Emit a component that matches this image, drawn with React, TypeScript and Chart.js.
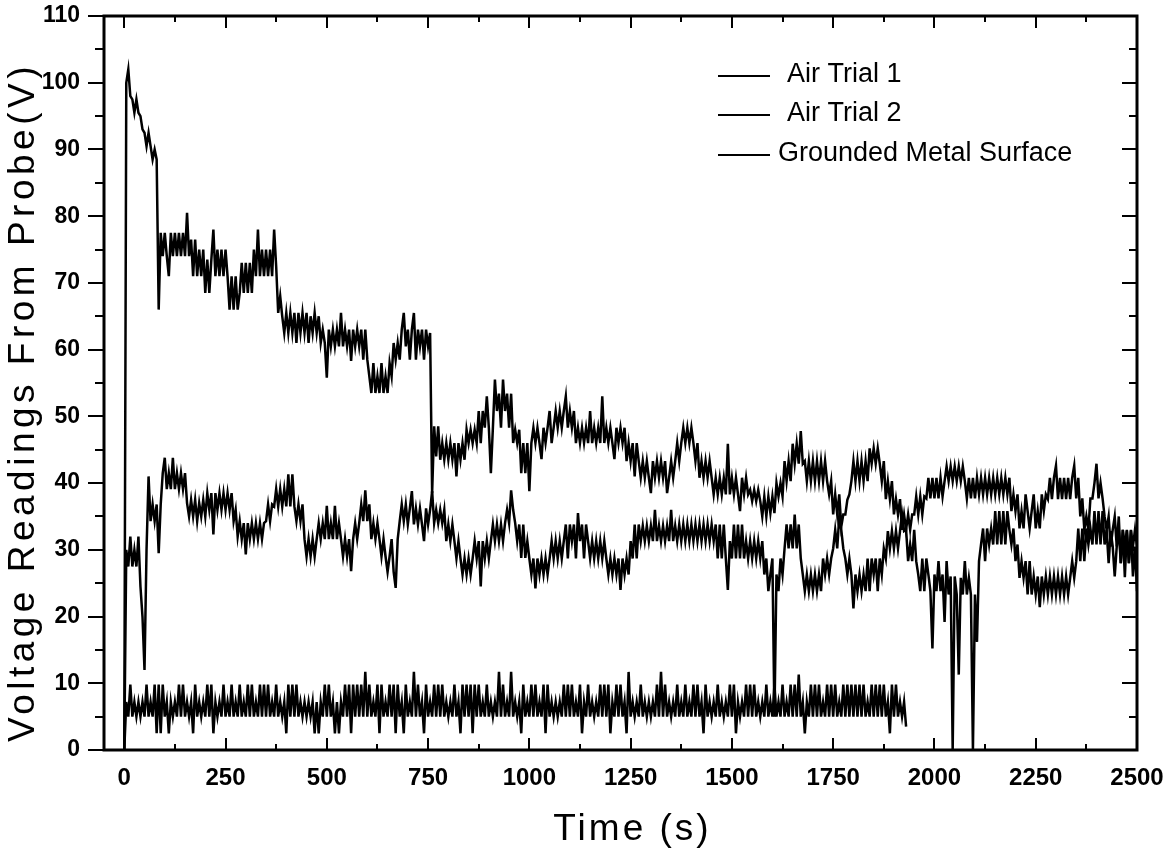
import React, { useEffect, useRef } from "react";
import { Chart, registerables } from "chart.js";

Chart.register(...registerables);

const SAMPLE_STEP_S = 5;

const seriesLabels = ["Air Trial 1", "Air Trial 2", "Grounded Metal Surface"];
const xAxisTitle = "Time (s)";
const yAxisTitle = "Voltage Readings From Probe(V)";

const xMajorTicks = [0, 250, 500, 750, 1000, 1250, 1500, 1750, 2000, 2250, 2500];
const xMinorTicks = [125, 375, 625, 875, 1125, 1375, 1625, 1875, 2125, 2375];
const yMajorTicks = [0, 10, 20, 30, 40, 50, 60, 70, 80, 90, 100, 110];
const yMinorTicks = [5, 15, 25, 35, 45, 55, 65, 75, 85, 95, 105];

// Air Trial 1, one reading every 5 s from t = 0 to 2500 s (one row = 100 s)
const airTrial1 = [
  0, 100, 102, 98, 97.5, 95.5, 97.5, 95.5, 95, 93, 92.5, 90.5, 92.5, 90.5, 88.5, 90, 88.5, 66, 77.5, 74,
  77.5, 74, 71, 77.5, 74, 77.5, 74, 77.5, 74, 77.5, 74, 80.5, 74, 76.5, 71, 76.5, 71, 75, 71, 75,
  68.5, 73.5, 68.5, 73.5, 78, 71, 75, 71, 75, 71, 75, 71, 66, 71, 66, 71, 66, 68.5, 73, 68.5,
  73, 68.5, 73, 68.5, 75, 71, 78, 71, 75, 71, 75, 71, 75, 71, 78, 72.5, 65.5, 68, 65, 62.5,
  65.5, 62.5, 65.5, 62.5, 65.5, 61, 65.5, 62.5, 65.5, 62.5, 65.5, 61, 65, 62.5, 65.5, 62.5, 65, 61, 63, 61,
  55.8, 63, 60.5, 63, 60.5, 63, 60.5, 65.5, 60.5, 63, 60.5, 63, 58.3, 63, 60.5, 63, 60.5, 63, 58.5, 63,
  58.5, 56, 53.5, 58, 53.5, 56, 53.5, 58, 53.5, 56, 53.5, 58, 56, 61, 58.5, 61, 58.5, 63, 65.5, 60.5,
  63, 58.5, 63, 65.5, 58.5, 63, 60.5, 63, 58.5, 63, 60.5, 62.5, 38.5, 48.5, 44, 48.5, 43.5, 46, 43.5, 46,
  43.5, 46, 43.5, 46, 41, 46, 43.5, 46, 43.5, 48, 46, 48, 46, 48, 46, 50.8, 46, 50.8, 48.3, 53,
  48.3, 41.5, 48.3, 55.5, 50.8, 53.4, 48.3, 55.5, 50.8, 53.4, 48.3, 53.4, 46, 48, 46, 48, 41.5, 46, 41.5, 46,
  38.8, 46, 48.3, 46, 48.3, 46, 43.6, 48.3, 46, 48.3, 50.8, 46, 48.3, 50.8, 48.3, 50.8, 48.3, 50.8, 53, 48.3,
  50.8, 48.3, 50.8, 46, 48.3, 46, 48.3, 46, 48.3, 46, 50.8, 46, 48.3, 46, 48.3, 46, 53, 46, 48.3, 46,
  48.3, 46, 43.6, 48.3, 46, 48.3, 46, 48.3, 43.3, 46, 43.3, 46, 41, 46, 43.3, 40.8, 43.3, 40.8, 43.3, 40.8,
  38.5, 43.3, 40.8, 43.3, 40.8, 43.3, 40.8, 43.3, 38.5, 40.8, 43.3, 40.8, 43.3, 46, 43.3, 46, 48.3, 46, 48.3, 46,
  48.3, 46, 43.3, 46, 40.8, 43.3, 40.8, 43.3, 40.8, 43.3, 40.8, 38.3, 40.8, 38.3, 40.8, 38.3, 40.8, 38.3, 45.9, 38.3,
  40.8, 38.3, 40.8, 38.3, 35.8, 40.8, 38.3, 40.8, 38.3, 39, 37.3, 39, 37.3, 39, 37.3, 35, 38, 35, 38, 35.5,
  38, 35.5, 40, 38, 40, 38, 43.3, 40.3, 43.3, 40.3, 45.9, 42.9, 45.9, 42.9, 47.8, 42.9, 43.3, 40.3, 43.3, 40.3,
  43.3, 40.3, 43.3, 40.3, 43.3, 40.3, 43.3, 40.3, 38.3, 40.3, 35.3, 38.3, 35.3, 38.3, 33.5, 35.3, 35.3, 37.5, 38.3, 40.3,
  43.3, 40.3, 43.3, 40.3, 43.3, 40.3, 43.3, 40.3, 45.2, 42.9, 45.2, 42.9, 45.2, 42.9, 40.3, 43.3, 37.6, 40.3, 37.6, 40.3,
  35.3, 37.6, 35.3, 37.6, 33, 35.3, 33, 35.3, 33, 35.3, 35.3, 38, 35.3, 38, 35.3, 38, 37.7, 40.8, 37.7, 40.8,
  37.7, 40.8, 37.7, 40.8, 38, 40.3, 42.5, 40.3, 42.5, 40.3, 42.5, 40.3, 42.5, 40.3, 42.5, 40.3, 37.7, 40.8, 37.7, 40.8,
  37.7, 40.8, 38.3, 40.8, 38.3, 40.8, 38.3, 40.8, 38.3, 40.8, 38.3, 40.8, 38.3, 40.8, 38.3, 40.8, 38.3, 40.8, 35.8, 38.3,
  35.8, 38.3, 33.2, 35.8, 33.2, 38.3, 35.8, 33.2, 35.8, 38.3, 33.2, 35.8, 33.2, 38.3, 35.8, 38.3, 37.6, 40.8, 37.6, 40.8,
  42.6, 37.6, 40.8, 37.6, 40.8, 37.6, 40.8, 37.6, 40.8, 42.6, 37.7, 40.8, 35, 37.7, 33, 35, 33, 37.7, 37.7, 40,
  42.9, 37.7, 40, 37.7, 35, 33, 35, 30.5, 33, 35, 30.5, 35, 28, 33, 30.5, 33, 28, 33, 30.5, 33,
  30.5,
];

// Air Trial 2, one reading every 5 s from t = 0 to 2500 s (one row = 100 s)
const airTrial2 = [
  0, 30, 27.5, 32, 27.5, 30, 27.5, 32, 24.5, 20, 12, 30, 41, 34.3, 36.8, 34.3, 36.8, 29.5, 36.8, 41.5,
  43.8, 39.1, 41.5, 39.1, 43.8, 39.1, 41.5, 39.1, 41.5, 39.1, 41.5, 37, 35, 37.5, 35, 37.5, 34.3, 37, 35, 37.5,
  35, 38.5, 36, 38.5, 32.3, 38.5, 36, 38.5, 36, 38.5, 36, 38.5, 36, 38.5, 34.3, 36, 32, 34.3, 31.6, 34,
  29.3, 34, 31.6, 34, 31.6, 34, 31.6, 34, 31.6, 34, 34.3, 36.8, 34.3, 36.8, 36.5, 39.1, 36.5, 39.1, 36.5, 39.1,
  36.5, 41.3, 36.5, 41.3, 36.5, 34.3, 36.8, 34.3, 36.8, 31.6, 29, 31.6, 29, 31.6, 29, 31.6, 34, 31.6, 34, 31.6,
  36.6, 31.6, 34, 31.6, 36.6, 31.6, 34, 31.6, 29, 31.6, 29, 31.6, 26.8, 31.6, 34, 31.6, 34, 36.8, 34.3, 38.9,
  34.3, 36.8, 31.6, 34, 31.6, 34, 31.6, 29, 31.6, 29, 26.7, 29, 31.6, 26.7, 24.3, 31.6, 34.3, 36.8, 34.3, 36.8,
  33.8, 36.2, 38.8, 33.8, 36.2, 33.8, 36.2, 33.8, 31.3, 36.2, 33.8, 36, 38.8, 34, 36, 34, 36, 34, 36, 31.3,
  33.8, 31.3, 33.8, 31.3, 28.7, 31.3, 28.7, 26.3, 28.7, 26.3, 28.7, 26.3, 28.7, 31.3, 28.7, 31.3, 24.5, 31.3, 28.7, 31.3,
  28.7, 31.3, 33.8, 31.3, 33.8, 31.3, 33.8, 31.3, 34, 36, 34, 38.9, 36, 34, 31.3, 33.8, 28.8, 33.8, 28.8, 31.3,
  28.7, 26.3, 28.7, 24.2, 28.7, 26.3, 28.7, 26.3, 28.7, 26.3, 28.7, 31.3, 28.7, 31.3, 28.7, 31.3, 28.7, 31.3, 33.8, 28.7,
  33.8, 31.3, 33.8, 28.7, 35.5, 31.3, 33.8, 28.7, 33.8, 31.3, 28.7, 31.3, 28.7, 31.3, 28.7, 31.3, 28.7, 31.3, 28.7, 26.3,
  28.7, 26.3, 28.7, 26.3, 28.7, 24, 28.7, 26.3, 28.7, 26.3, 31.3, 28.7, 33.8, 28.7, 33.8, 31.3, 33.6, 31.3, 33.6, 31.3,
  33.6, 31.3, 36, 31.3, 33.6, 31.3, 33.6, 31.3, 33.6, 31.3, 36, 31.3, 33.6, 31.3, 33.8, 31.3, 33.8, 31.3, 33.8, 31.3,
  33.8, 31.3, 33.8, 31.3, 33.8, 31.3, 33.8, 31.3, 33.8, 31.3, 33.8, 31.3, 33.8, 28.7, 33.8, 28.7, 33.8, 28.7, 24, 31.3,
  28.7, 33.8, 28.7, 33.8, 28.7, 33.8, 28.7, 31.3, 28.7, 31.3, 28.7, 31.3, 28.7, 31.3, 28.7, 31.3, 26.3, 28.7, 23.8, 26.3,
  28.7, 5, 26.3, 23.8, 28.7, 26.3, 30.2, 33.8, 30.2, 33.8, 30.2, 35.3, 30.2, 33.8, 28.7, 26.3, 23.8, 26.3, 23.8, 26.3,
  23.8, 26.3, 23.8, 26.3, 23.8, 28.7, 26.3, 28.7, 26.3, 28.7, 30.2, 33, 30.2, 35, 33, 30.2, 28.7, 26.3, 28.7, 26.3,
  21.2, 26.3, 23.8, 26.3, 23.8, 26.3, 23.8, 28.7, 23.8, 28.7, 26.3, 28.7, 23.8, 28.7, 26.3, 30.2, 28.7, 32.8, 30.2, 32.8,
  30.2, 32.8, 30.2, 32.8, 35.3, 32.8, 33, 28.3, 30.8, 28.3, 33, 28.3, 26.3, 23.8, 28.7, 23.8, 28.7, 26.3, 23.8, 15.2,
  26.3, 23.8, 28.3, 23.8, 26.3, 19.2, 28.3, 23.3, 26, 0, 26, 23.3, 11.3, 25.8, 23.3, 28.3, 23.3, 25.8, 23.3, 0,
  23.3, 16.2, 28.3, 30.8, 33.2, 28.3, 33.2, 30.8, 33.2, 30.8, 35.8, 30.8, 35.8, 30.8, 35.8, 30.8, 35.8, 33, 30.8, 33.2,
  28.3, 30.8, 25.8, 28.3, 25.8, 28.3, 23.3, 28.3, 23.3, 26, 23.3, 26, 21.4, 26, 23.3, 26, 23.3, 26, 23.3, 26,
  23.3, 26, 23.3, 26, 23.3, 26, 23.3, 25.8, 28.3, 25.8, 28.3, 33.2, 28.3, 33.2, 28.3, 33.2, 30.8, 33.2, 30.8, 35.8,
  30.8, 35.8, 30.8, 35.8, 30.8, 33, 28, 32.8, 30.5, 26, 30.5, 33, 28, 33, 25.9, 32.9, 28, 32.9, 26, 30.5,
  23.8,
];

// Grounded Metal Surface, one reading every 5 s from t = 0 to 1930 s (one row = 100 s)
const groundedMetal = [
  0, 7.2, 5, 9.8, 5, 7.2, 5, 7.2, 5, 7.2, 5, 9.8, 5, 7.2, 5, 9.8, 2.5, 9.8, 2.5, 9.8,
  5, 7.2, 2.5, 7.2, 5, 7.2, 5, 9.8, 5, 9.8, 5, 7.2, 5, 7.2, 2.5, 9.8, 5, 7.2, 5, 7.2,
  5, 9.8, 5, 9.8, 2.5, 7.2, 5, 7.2, 5, 9.8, 5, 7.2, 5, 9.8, 5, 7.2, 5, 9.8, 5, 7.2,
  5, 9.8, 5, 9.8, 5, 7.2, 5, 9.8, 5, 9.8, 5, 9.8, 5, 7.2, 5, 9.8, 5, 7.2, 5, 7.2,
  2.5, 9.8, 5, 9.8, 5, 9.8, 5, 7.2, 5, 7.2, 5, 7.2, 5, 7.2, 2.5, 7.2, 2.5, 7.2, 5, 9.8,
  5, 9.8, 5, 7.2, 2.5, 7.2, 2.5, 7.2, 5, 9.8, 5, 9.8, 2.5, 9.8, 5, 9.8, 5, 9.8, 5, 11.7,
  5, 9.8, 5, 7.2, 5, 9.8, 2.5, 9.8, 5, 7.2, 5, 9.8, 5, 9.8, 2.5, 9.8, 5, 7.2, 2.5, 9.8,
  5, 7.2, 5, 11.7, 5, 9.8, 5, 7.2, 2.5, 9.8, 5, 7.2, 5, 9.8, 5, 9.8, 5, 9.8, 5, 7.2,
  5, 7.2, 5, 9.8, 5, 7.2, 2.5, 9.8, 5, 9.8, 5, 9.8, 2.5, 9.8, 5, 9.8, 5, 7.2, 5, 9.8,
  5, 7.2, 5, 7.2, 5, 11.7, 5, 9.8, 5, 7.2, 5, 11.7, 5, 7.2, 5, 7.2, 2.5, 9.8, 5, 7.2,
  5, 9.8, 5, 9.8, 5, 7.2, 5, 9.8, 2.5, 9.8, 5, 7.2, 5, 7.2, 5, 7.2, 5, 9.8, 5, 9.8,
  5, 9.8, 5, 7.2, 5, 9.8, 2.5, 7.2, 5, 9.8, 5, 7.2, 5, 7.2, 5, 9.8, 5, 9.8, 5, 9.8,
  2.5, 7.2, 5, 9.8, 5, 9.8, 5, 7.2, 2.5, 11.7, 5, 7.2, 5, 7.2, 5, 9.8, 5, 7.2, 5, 7.2,
  5, 7.2, 5, 9.8, 5, 11.7, 5, 9.8, 5, 7.2, 5, 7.2, 5, 9.8, 5, 7.2, 5, 9.8, 5, 7.2,
  5, 9.8, 5, 9.8, 5, 7.2, 2.5, 9.8, 5, 7.2, 5, 7.2, 5, 9.8, 5, 7.2, 5, 7.2, 5, 9.8,
  5, 9.8, 2.5, 7.2, 5, 7.2, 5, 9.8, 5, 9.8, 5, 9.8, 5, 7.2, 5, 7.2, 5, 9.8, 5, 7.2,
  5, 9.8, 5, 7.2, 5, 9.8, 5, 7.2, 5, 9.8, 5, 9.8, 5, 11.3, 5, 7.2, 2.5, 7.2, 5, 9.8,
  5, 9.8, 5, 9.8, 5, 7.2, 5, 9.8, 5, 9.8, 5, 9.8, 5, 7.2, 5, 9.8, 5, 9.8, 5, 9.8,
  5, 9.8, 5, 9.8, 5, 9.8, 5, 7.2, 5, 9.8, 5, 9.8, 5, 9.8, 5, 9.8, 5, 7.2, 2.5, 9.8,
  5, 9.8, 5, 7.2, 5, 7.2, 3.5,
];

const FONT = "'Liberation Sans', Arial, Helvetica, sans-serif";

const toPoints = (vals: number[]) => vals.map((v, i) => ({ x: i * SAMPLE_STEP_S, y: v }));

const framePlugin = {
  id: "originFrame",
  afterDatasetsDraw(chart: any) {
    const { ctx, chartArea: a, scales } = chart;
    const xs = scales.x;
    const ys = scales.y;
    ctx.save();
    ctx.strokeStyle = "#000";
    ctx.lineWidth = 3;
    ctx.strokeRect(a.left, a.top, a.right - a.left, a.bottom - a.top);
    ctx.lineWidth = 2;
    ctx.beginPath();
    for (const v of xMajorTicks) {
      const px = Math.round(xs.getPixelForValue(v));
      ctx.moveTo(px, a.bottom);
      ctx.lineTo(px, a.bottom - 12);
      ctx.moveTo(px, a.top);
      ctx.lineTo(px, a.top + 12);
    }
    for (const v of xMinorTicks) {
      const px = Math.round(xs.getPixelForValue(v));
      ctx.moveTo(px, a.bottom);
      ctx.lineTo(px, a.bottom - 6);
      ctx.moveTo(px, a.top);
      ctx.lineTo(px, a.top + 6);
    }
    for (const v of yMajorTicks) {
      const py = Math.round(ys.getPixelForValue(v));
      ctx.moveTo(a.left, py);
      ctx.lineTo(a.left - 16, py);
      ctx.moveTo(a.right, py);
      ctx.lineTo(a.right - 15, py);
    }
    for (const v of yMinorTicks) {
      const py = Math.round(ys.getPixelForValue(v));
      ctx.moveTo(a.left, py);
      ctx.lineTo(a.left - 9, py);
      ctx.moveTo(a.right, py);
      ctx.lineTo(a.right - 8, py);
    }
    ctx.stroke();
    ctx.restore();
  },
};

const titlesPlugin = {
  id: "axisTitles",
  afterDraw(chart: any) {
    const { ctx, chartArea: a } = chart;
    ctx.save();
    ctx.fillStyle = "#000";
    ctx.textAlign = "center";
    ctx.textBaseline = "middle";
    ctx.font = `37px ${FONT}`;
    (ctx as any).letterSpacing = "4.5px";
    ctx.translate(24, 402);
    ctx.rotate(-Math.PI / 2);
    ctx.fillText(yAxisTitle, 0, 0);
    ctx.restore();

    ctx.save();
    ctx.fillStyle = "#000";
    ctx.textAlign = "center";
    ctx.textBaseline = "middle";
    ctx.font = `37px ${FONT}`;
    (ctx as any).letterSpacing = "3px";
    ctx.fillText(xAxisTitle, (a.left + a.right) / 2 + 12, 830);
    ctx.restore();
  },
};

const legendPlugin = {
  id: "insideLegend",
  afterDraw(chart: any) {
    const { ctx } = chart;
    const rows = [
      { y: 76, textX: 787 },
      { y: 115, textX: 787 },
      { y: 155, textX: 778 },
    ];
    ctx.save();
    ctx.fillStyle = "#000";
    ctx.strokeStyle = "#000";
    ctx.lineWidth = 2;
    ctx.font = `27px ${FONT}`;
    ctx.textAlign = "left";
    ctx.textBaseline = "middle";
    chart.data.datasets.forEach((ds: any, i: number) => {
      const r = rows[i];
      ctx.beginPath();
      ctx.moveTo(718, r.y);
      ctx.lineTo(770, r.y);
      ctx.stroke();
      ctx.fillText(ds.label, r.textX, r.y - 1);
    });
    ctx.restore();
  },
};

export default function App() {
  const canvasRef = useRef<HTMLCanvasElement | null>(null);

  useEffect(() => {
    const canvas = canvasRef.current;
    if (!canvas) return;
    const lineStyle = {
      borderColor: "#000",
      backgroundColor: "#000",
      borderWidth: 2.5,
      pointRadius: 0,
      fill: false,
      tension: 0,
    };
    const chart = new Chart(canvas, {
      type: "line",
      data: {
        datasets: [
          { ...lineStyle, label: seriesLabels[0], data: toPoints(airTrial1) },
          { ...lineStyle, label: seriesLabels[1], data: toPoints(airTrial2) },
          { ...lineStyle, label: seriesLabels[2], data: toPoints(groundedMetal) },
        ],
      },
      options: {
        animation: false,
        responsive: false,
        devicePixelRatio: 1,
        events: [],
        layout: { padding: { top: 16, right: 27, left: 0, bottom: 0 } },
        plugins: {
          legend: { display: false },
          tooltip: { enabled: false },
          title: { display: false },
        },
        scales: {
          x: {
            type: "linear",
            min: -50,
            max: 2500,
            grid: { display: false, drawTicks: true, tickLength: 14 },
            border: { display: false },
            title: { display: false },
            ticks: {
              color: "#000",
              font: { family: FONT, size: 24, weight: "bold" },
              padding: 0,
              maxRotation: 0,
              autoSkip: false,
              callback: (v: any) => String(v),
            },
            afterBuildTicks: (axis: any) => {
              axis.ticks = xMajorTicks.map((v) => ({ value: v }));
            },
            afterFit: (axis: any) => {
              axis.height = 100;
            },
          },
          y: {
            type: "linear",
            min: 0,
            max: 110,
            grid: { display: false, drawTicks: true, tickLength: 24 },
            border: { display: false },
            title: { display: false },
            ticks: {
              color: "#000",
              font: { family: FONT, size: 23, weight: "bold" },
              padding: 0,
              autoSkip: false,
              callback: (v: any) => String(v),
            },
            afterBuildTicks: (axis: any) => {
              axis.ticks = yMajorTicks.map((v) => ({ value: v }));
            },
            afterFit: (axis: any) => {
              axis.width = 104;
            },
          },
        },
      },
      plugins: [framePlugin, titlesPlugin, legendPlugin],
    } as any);
    return () => chart.destroy();
  }, []);

  return (
    <div
      style={{
        position: "absolute",
        left: 0,
        top: 0,
        width: 1164,
        height: 850,
        background: "#fff",
      }}
    >
      <canvas ref={canvasRef} width={1164} height={850} style={{ display: "block" }} />
    </div>
  );
}
